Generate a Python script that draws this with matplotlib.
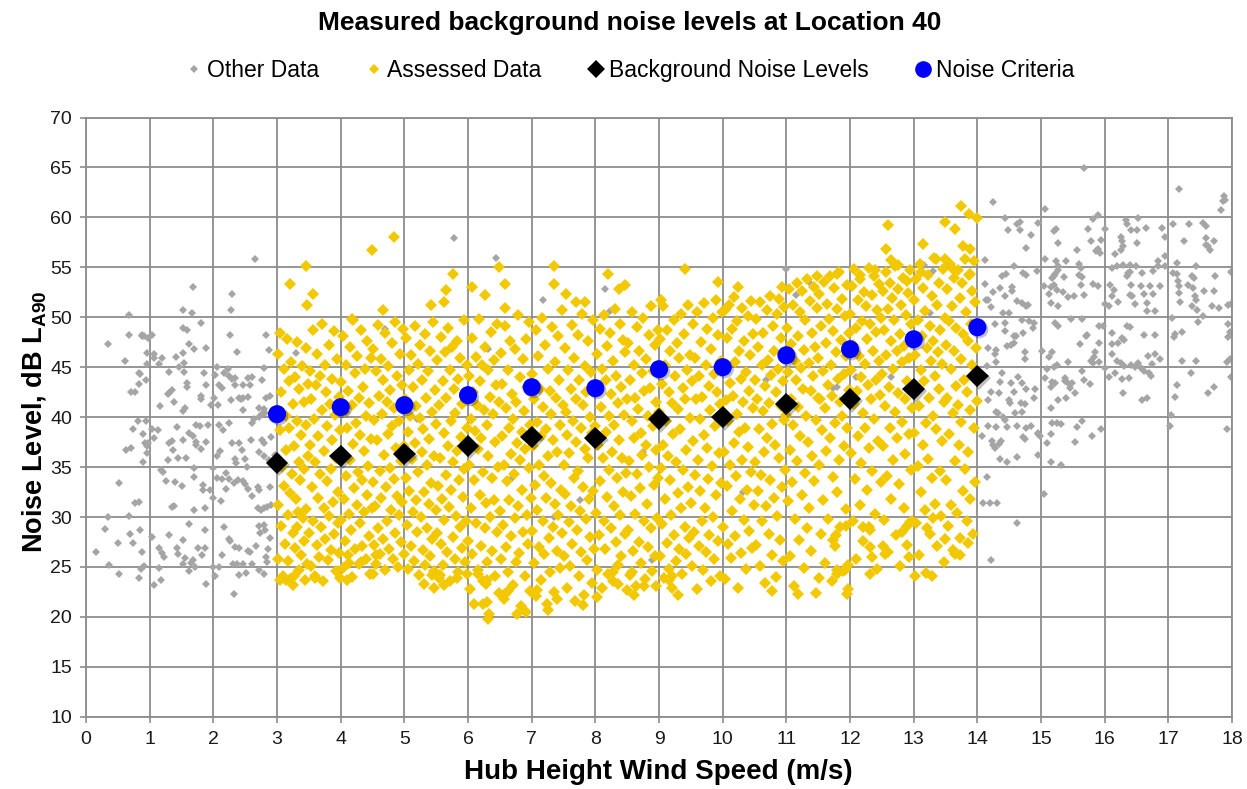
import numpy as np
import matplotlib.pyplot as plt
from matplotlib.lines import Line2D
import matplotlib.patheffects as pe

plt.rcParams["font.family"] = ["Liberation Sans", "DejaVu Sans"]
plt.rcParams["mathtext.fontset"] = "custom"
plt.rcParams["mathtext.rm"] = "Liberation Sans"
plt.rcParams["mathtext.bf"] = "Liberation Sans:bold"

# scatter points are (wind speed in cm/s, noise level in tenths of a dB)
other_low = [
    (265, 558), (168, 530), (230, 523), (227, 507), (152, 507), (166, 504), (67, 502), (180, 494),
    (152, 489), (159, 487), (68, 482), (88, 482), (97, 479), (103, 482), (226, 482), (283, 482),
    (34, 473), (161, 473), (169, 468), (188, 469), (237, 465), (287, 467), (107, 463), (120, 459),
    (142, 460), (152, 464), (61, 456), (96, 453), (115, 453), (154, 454), (146, 450), (205, 450),
    (223, 448), (279, 449), (83, 444), (130, 445), (154, 445), (185, 444), (202, 442), (216, 444),
    (225, 441), (230, 438), (234, 439), (254, 439), (260, 440), (94, 437), (276, 437), (158, 434),
    (159, 430), (188, 432), (209, 432), (214, 429), (234, 432), (246, 432), (257, 432), (71, 425),
    (77, 425), (135, 427), (129, 423), (180, 421), (201, 419), (241, 419), (247, 419), (255, 420),
    (282, 419), (130, 424), (180, 418), (116, 411), (138, 415), (152, 406), (155, 409), (196, 412),
    (207, 412), (228, 417), (243, 418), (272, 409), (276, 403), (280, 408), (247, 407), (94, 396),
    (74, 388), (90, 383), (92, 374), (98, 374), (95, 371), (63, 367), (71, 369), (95, 364),
    (89, 355), (104, 388), (113, 387), (107, 379), (143, 390), (153, 377), (162, 384), (168, 381),
    (173, 392), (179, 391), (172, 375), (173, 372), (181, 368), (188, 375), (192, 392), (130, 374),
    (135, 376), (137, 367), (128, 357), (144, 359), (157, 359), (169, 349), (199, 349), (209, 392),
    (215, 387), (225, 394), (210, 366), (206, 361), (230, 374), (241, 374), (245, 367), (250, 358),
    (259, 377), (277, 377), (279, 374), (272, 365), (280, 361), (287, 357), (253, 350), (234, 358),
    (236, 354), (260, 394), (264, 398), (272, 400), (121, 345), (118, 347), (126, 336), (139, 335),
    (150, 331), (170, 340), (183, 332), (184, 327), (194, 327), (199, 319), (212, 316), (205, 339),
    (214, 338), (220, 344), (225, 338), (233, 334), (239, 337), (246, 336), (250, 333), (220, 328),
    (255, 328), (270, 330), (272, 327), (261, 321), (289, 330), (138, 311), (135, 310), (170, 307),
    (187, 309), (52, 334), (77, 314), (83, 315), (68, 301), (35, 300), (275, 307), (280, 309),
    (285, 310), (291, 312), (30, 288), (15, 265), (36, 252), (51, 243), (50, 274), (69, 283),
    (73, 274), (85, 287), (88, 265), (86, 248), (91, 251), (83, 239), (104, 280), (114, 269),
    (107, 232), (118, 237), (120, 264), (122, 260), (115, 249), (131, 282), (143, 269), (144, 263),
    (152, 277), (152, 253), (156, 259), (161, 293), (165, 254), (168, 257), (171, 250), (162, 246),
    (176, 269), (187, 269), (182, 262), (187, 287), (189, 233), (200, 250), (203, 241), (209, 250),
    (214, 262), (216, 290), (224, 278), (226, 276), (231, 253), (237, 253), (233, 223), (240, 242),
    (234, 270), (240, 269), (246, 253), (252, 244), (254, 266), (258, 265), (260, 253), (267, 271),
    (271, 247), (273, 284), (281, 287), (279, 243), (283, 260), (285, 255), (286, 268), (289, 279),
    (271, 291), (279, 292), (270, 309), (83, 433), (85, 443), (88, 481), (91, 481), (96, 464),
    (106, 459), (81, 396), (281, 404), (289, 421), (294, 398), (291, 380), (297, 362),
]

other_high = [
    (1567, 649), (1716, 628), (1425, 615), (1788, 621), (1789, 617), (1786, 616), (1782, 607), (1507, 608),
    (1444, 599), (1590, 602), (1581, 598), (1633, 597), (1635, 593), (1653, 599), (1707, 593), (1732, 593),
    (1755, 594), (1759, 591), (1462, 593), (1467, 595), (1495, 594), (1448, 587), (1467, 587), (1484, 582),
    (1520, 586), (1523, 588), (1573, 588), (1600, 588), (1642, 587), (1651, 587), (1665, 589), (1690, 589),
    (1694, 580), (1626, 580), (1627, 576), (1629, 571), (1650, 574), (1579, 576), (1594, 577), (1725, 576),
    (1759, 579), (1759, 572), (1772, 576), (1766, 567), (1763, 571), (1476, 569), (1526, 574), (1556, 567),
    (1587, 566), (1592, 564), (1590, 568), (1626, 567), (1616, 563), (1695, 561), (1683, 556), (1713, 554),
    (1412, 557), (1506, 558), (1524, 556), (1539, 556), (1458, 551), (1526, 551), (1527, 547), (1522, 543),
    (1518, 539), (1521, 541), (1560, 553), (1563, 549), (1611, 549), (1620, 551), (1629, 552), (1639, 552),
    (1649, 551), (1676, 546), (1684, 551), (1694, 551), (1658, 544), (1744, 551), (1494, 546), (1438, 541),
    (1445, 543), (1472, 544), (1476, 542), (1536, 540), (1560, 542), (1565, 540), (1635, 541), (1637, 544),
    (1640, 545), (1708, 544), (1713, 543), (1737, 541), (1741, 539), (1773, 541), (1799, 545), (1412, 533),
    (1436, 529), (1455, 530), (1455, 526), (1425, 525), (1443, 521), (1504, 531), (1516, 530), (1521, 532),
    (1525, 527), (1513, 523), (1535, 525), (1563, 532), (1567, 522), (1552, 521), (1581, 533), (1590, 531),
    (1608, 532), (1614, 527), (1611, 521), (1642, 532), (1639, 522), (1643, 521), (1657, 531), (1662, 523),
    (1671, 531), (1676, 523), (1687, 531), (1715, 536), (1717, 531), (1717, 524), (1731, 532), (1739, 529),
    (1742, 521), (1743, 517), (1756, 526), (1771, 526), (1794, 512), (1798, 513), (1413, 517), (1417, 517),
    (1462, 516), (1470, 514), (1477, 511), (1480, 512), (1422, 510), (1515, 514), (1527, 511), (1542, 520),
    (1600, 513), (1606, 511), (1621, 515), (1647, 513), (1666, 514), (1667, 506), (1679, 506), (1718, 515),
    (1737, 511), (1745, 507), (1755, 501), (1768, 511), (1779, 509), (1441, 504), (1449, 504), (1470, 497),
    (1481, 496), (1489, 494), (1488, 489), (1522, 494), (1526, 491), (1547, 498), (1565, 498), (1591, 491),
    (1598, 491), (1635, 491), (1640, 490), (1611, 484), (1661, 482), (1679, 482), (1705, 499), (1710, 483),
    (1721, 485), (1747, 495), (1794, 493), (1797, 485), (1428, 493), (1443, 494), (1444, 486), (1460, 481),
    (1472, 484), (1572, 482), (1416, 469), (1427, 463), (1430, 467), (1429, 455), (1415, 451), (1446, 471),
    (1453, 472), (1457, 474), (1458, 481), (1475, 465), (1475, 458), (1439, 444), (1435, 435), (1453, 434),
    (1457, 425), (1464, 440), (1470, 434), (1422, 425), (1434, 424), (1416, 417), (1449, 417), (1451, 414),
    (1468, 414), (1475, 413), (1477, 428), (1491, 428), (1489, 419), (1459, 404), (1470, 405), (1433, 404),
    (1430, 405), (1443, 397), (1441, 400), (1417, 391), (1430, 390), (1446, 390), (1462, 391), (1477, 389),
    (1484, 391), (1407, 381), (1423, 376), (1425, 372), (1428, 369), (1434, 373), (1437, 376), (1472, 380),
    (1475, 378), (1496, 383), (1498, 381), (1436, 358), (1446, 355), (1462, 360), (1495, 362), (1415, 340),
    (1409, 314), (1420, 314), (1431, 314), (1463, 294), (1505, 323), (1422, 257), (1501, 466), (1513, 460),
    (1518, 465), (1525, 452), (1521, 450), (1509, 448), (1507, 439), (1518, 435), (1516, 430), (1522, 434),
    (1538, 439), (1537, 436), (1543, 434), (1548, 434), (1545, 429), (1554, 424), (1527, 417), (1539, 419),
    (1516, 409), (1518, 394), (1525, 394), (1531, 393), (1556, 390), (1564, 396), (1594, 388), (1580, 381),
    (1553, 375), (1516, 383), (1510, 374), (1516, 355), (1531, 352), (1495, 384), (1542, 455), (1561, 473),
    (1571, 481), (1565, 446), (1568, 437), (1577, 433), (1585, 465), (1583, 460), (1579, 456), (1581, 454),
    (1591, 474), (1591, 455), (1600, 449), (1606, 440), (1611, 473), (1621, 474), (1627, 479), (1630, 477),
    (1612, 463), (1620, 456), (1626, 454), (1631, 451), (1616, 444), (1627, 438), (1638, 439), (1629, 424),
    (1642, 452), (1647, 450), (1652, 454), (1657, 449), (1661, 446), (1668, 461), (1674, 453), (1679, 463),
    (1687, 458), (1669, 444), (1673, 441), (1658, 417), (1667, 419), (1709, 480), (1721, 456), (1744, 456),
    (1735, 444), (1714, 432), (1704, 402), (1702, 391), (1763, 424), (1771, 430), (1711, 420), (1792, 455),
    (1797, 458), (1799, 440), (1792, 388), (1793, 480),
]

# a few "other" points that peek out from under the assessed cloud
other_mid = [
    (556, 360), (578, 579), (644, 559), (669, 339), (718, 517), (735, 300), (776, 317), (815, 528),
    (823, 506), (875, 365), (889, 257), (1032, 325), (1068, 437), (1099, 548), (1115, 522), (1136, 535),
    (1173, 429), (1179, 430), (1210, 440), (1265, 440), (1268, 518), (1316, 552), (1326, 504), (1331, 546),
    (1352, 527), (571, 468), (632, 468), (330, 464), (341, 452), (470, 488), (520, 398),
]

assessed = [
    (301, 463), (302, 312), (302, 258), (304, 484), (305, 387), (306, 291), (307, 425), (308, 350), (309, 241), (311, 448),
    (311, 331), (312, 273), (314, 401), (314, 367), (315, 478), (317, 302), (317, 256), (318, 436), (319, 389), (321, 324),
    (321, 238), (322, 455), (323, 343), (325, 284), (325, 413), (326, 371), (328, 269), (328, 440), (329, 318), (331, 396),
    (331, 290), (332, 475), (334, 355), (334, 247), (335, 428), (336, 337), (338, 262), (338, 382), (339, 451), (341, 299),
    (342, 415), (342, 348), (343, 276), (345, 469), (346, 308), (346, 392), (347, 253), (348, 433), (349, 361), (344, 237),
    (333, 305),
    (350, 284), (351, 446), (352, 372), (353, 251), (354, 418), (355, 330), (356, 487), (357, 296), (358, 398), (359, 241),
    (360, 355), (361, 432), (362, 272), (363, 463), (364, 319), (365, 381), (366, 260), (367, 441), (368, 343), (369, 290),
    (370, 407), (371, 493), (372, 236), (373, 366), (374, 309), (375, 452), (376, 278), (377, 425), (378, 336), (379, 391),
    (380, 257), (381, 472), (382, 301), (383, 413), (384, 348), (385, 267), (386, 438), (387, 377), (388, 315), (389, 486),
    (390, 283), (391, 402), (392, 246), (393, 359), (394, 458), (395, 325), (396, 294), (397, 420), (398, 264), (399, 387),
    (400, 297), (401, 435), (402, 364), (403, 249), (404, 481), (405, 318), (406, 405), (407, 276), (408, 452), (409, 341),
    (410, 389), (411, 262), (412, 426), (413, 303), (414, 470), (415, 357), (416, 287), (417, 412), (418, 240), (419, 373),
    (420, 497), (421, 329), (422, 444), (423, 268), (424, 394), (425, 312), (426, 461), (427, 345), (428, 253), (429, 419),
    (430, 382), (431, 294), (432, 487), (433, 337), (434, 271), (435, 430), (436, 366), (437, 305), (438, 448), (439, 258),
    (440, 401), (441, 322), (442, 476), (443, 351), (444, 281), (445, 414), (446, 243), (447, 378), (448, 459), (449, 309),
    (450, 335), (451, 468), (452, 272), (453, 397), (454, 311), (455, 446), (456, 253), (457, 377), (458, 492), (459, 289),
    (460, 421), (461, 346), (462, 263), (463, 458), (464, 319), (465, 403), (466, 278), (467, 437), (468, 362), (469, 247),
    (470, 484), (471, 330), (472, 415), (473, 296), (474, 383), (475, 451), (476, 268), (477, 349), (478, 427), (479, 307),
    (480, 474), (481, 391), (482, 258), (483, 338), (484, 409), (485, 284), (486, 495), (487, 369), (488, 321), (489, 441),
    (490, 250), (491, 396), (492, 302), (493, 463), (494, 356), (495, 275), (496, 432), (497, 315), (498, 488), (499, 371),
    (500, 263), (501, 418), (502, 339), (503, 479), (504, 292), (505, 385), (506, 248), (507, 447), (508, 326), (509, 401),
    (510, 271), (511, 462), (512, 358), (513, 305), (514, 430), (515, 256), (516, 374), (517, 491), (518, 317), (519, 411),
    (520, 285), (521, 453), (522, 345), (523, 242), (524, 399), (525, 472), (526, 300), (527, 365), (528, 437), (529, 267),
    (530, 388), (531, 325), (532, 483), (533, 252), (534, 419), (535, 352), (536, 289), (537, 446), (538, 313), (539, 378),
    (540, 261), (541, 466), (542, 334), (543, 405), (544, 278), (545, 495), (546, 361), (547, 246), (548, 427), (549, 307),
    (550, 393), (551, 284), (552, 457), (553, 331), (554, 239), (555, 412), (556, 359), (557, 273), (558, 480), (559, 318),
    (560, 436), (561, 252), (562, 384), (563, 297), (564, 465), (565, 342), (566, 419), (567, 265), (568, 371), (569, 489),
    (570, 310), (571, 447), (572, 236), (573, 396), (574, 327), (575, 470), (576, 280), (577, 355), (578, 428), (579, 258),
    (580, 404), (581, 301), (582, 476), (583, 366), (584, 245), (585, 438), (586, 337), (587, 290), (588, 459), (589, 380),
    (590, 269), (591, 413), (592, 320), (593, 497), (594, 348), (595, 255), (596, 424), (597, 296), (598, 389), (599, 452),
    (600, 276), (601, 441), (602, 352), (603, 228), (604, 398), (605, 309), (606, 479), (607, 263), (608, 425), (609, 337),
    (610, 213), (611, 386), (612, 460), (613, 294), (614, 412), (615, 247), (616, 368), (617, 498), (618, 322), (619, 436),
    (620, 271), (621, 379), (622, 452), (623, 236), (624, 345), (625, 407), (626, 289), (627, 470), (628, 314), (629, 392),
    (630, 255), (631, 447), (632, 361), (633, 203), (634, 420), (635, 300), (636, 485), (637, 339), (638, 266), (639, 403),
    (640, 457), (641, 317), (642, 241), (643, 375), (644, 432), (645, 285), (646, 493), (647, 350), (648, 224), (649, 415),
    (650, 306), (651, 464), (652, 258), (653, 381), (654, 433), (655, 292), (656, 352), (657, 218), (658, 491), (659, 409),
    (660, 270), (661, 336), (662, 447), (663, 245), (664, 389), (665, 317), (666, 476), (667, 363), (668, 281), (669, 423),
    (670, 232), (671, 398), (672, 343), (673, 468), (674, 299), (675, 255), (676, 415), (677, 374), (678, 311), (679, 502),
    (680, 264), (681, 440), (682, 357), (683, 211), (684, 385), (685, 327), (686, 458), (687, 285), (688, 406), (689, 241),
    (690, 368), (691, 478), (692, 302), (693, 430), (694, 273), (695, 349), (696, 495), (697, 226), (698, 392), (699, 319),
    (700, 443), (701, 286), (702, 371), (703, 254), (704, 418), (705, 332), (706, 487), (707, 221), (708, 395), (709, 307),
    (710, 461), (711, 270), (712, 352), (713, 428), (714, 237), (715, 381), (716, 499), (717, 296), (718, 410), (719, 341),
    (720, 263), (721, 472), (722, 319), (723, 388), (724, 213), (725, 448), (726, 361), (727, 279), (728, 426), (729, 245),
    (730, 403), (731, 334), (732, 490), (733, 290), (734, 377), (735, 225), (736, 455), (737, 313), (738, 419), (739, 266),
    (740, 365), (741, 481), (742, 302), (743, 437), (744, 249), (745, 392), (746, 327), (747, 507), (748, 284), (749, 412),
    (750, 352), (751, 261), (752, 469), (753, 323), (754, 405), (755, 229), (756, 382), (757, 447), (758, 295), (759, 364),
    (760, 251), (761, 428), (762, 311), (763, 492), (764, 273), (765, 396), (766, 339), (767, 459), (768, 216), (769, 375),
    (770, 418), (771, 287), (772, 482), (773, 346), (774, 241), (775, 437), (776, 306), (777, 389), (778, 265), (779, 503),
    (780, 330), (781, 412), (782, 222), (783, 368), (784, 451), (785, 298), (786, 425), (787, 257), (788, 359), (789, 476),
    (790, 318), (791, 400), (792, 280), (793, 445), (794, 234), (795, 384), (796, 497), (797, 326), (798, 268), (799, 431),
    (800, 391), (801, 304), (802, 463), (803, 247), (804, 372), (805, 426), (806, 282), (807, 488), (808, 336), (809, 410),
    (810, 229), (811, 448), (812, 359), (813, 296), (814, 502), (815, 268), (816, 385), (817, 437), (818, 320), (819, 471),
    (820, 243), (821, 401), (822, 347), (823, 484), (824, 289), (825, 423), (826, 365), (827, 236), (828, 456), (829, 311),
    (830, 392), (831, 508), (832, 275), (833, 441), (834, 339), (835, 414), (836, 252), (837, 377), (838, 493), (839, 302),
    (840, 430), (841, 261), (842, 359), (843, 477), (844, 325), (845, 402), (846, 283), (847, 465), (848, 344), (849, 227),
    (850, 418), (851, 287), (852, 474), (853, 356), (854, 242), (855, 437), (856, 321), (857, 396), (858, 505), (859, 266),
    (860, 379), (861, 452), (862, 303), (863, 419), (864, 231), (865, 490), (866, 343), (867, 408), (868, 275), (869, 466),
    (870, 329), (871, 384), (872, 254), (873, 444), (874, 362), (875, 499), (876, 296), (877, 426), (878, 238), (879, 372),
    (880, 458), (881, 313), (882, 401), (883, 270), (884, 482), (885, 350), (886, 429), (887, 289), (888, 511), (889, 246),
    (890, 391), (891, 446), (892, 332), (893, 472), (894, 261), (895, 415), (896, 367), (897, 299), (898, 487), (899, 339),
    (900, 405), (901, 261), (902, 478), (903, 349), (904, 433), (905, 293), (906, 511), (907, 372), (908, 239), (909, 452),
    (910, 318), (911, 396), (912, 274), (913, 487), (914, 361), (915, 425), (916, 248), (917, 337), (918, 466), (919, 302),
    (920, 414), (921, 229), (922, 383), (923, 497), (924, 282), (925, 441), (926, 355), (927, 256), (928, 474), (929, 324),
    (930, 408), (931, 268), (932, 459), (933, 388), (934, 309), (935, 503), (936, 243), (937, 429), (938, 347), (939, 483),
    (940, 290), (941, 418), (942, 367), (943, 263), (944, 447), (945, 330), (946, 512), (947, 279), (948, 399), (949, 462),
    (950, 314), (951, 436), (952, 251), (953, 493), (954, 376), (955, 285), (956, 459), (957, 342), (958, 418), (959, 228),
    (960, 505), (961, 357), (962, 271), (963, 441), (964, 326), (965, 398), (966, 475), (967, 296), (968, 420), (969, 247),
    (970, 382), (971, 514), (972, 309), (973, 452), (974, 265), (975, 369), (976, 488), (977, 338), (978, 431), (979, 282),
    (980, 407), (981, 236), (982, 468), (983, 351), (984, 499), (985, 300), (986, 443), (987, 258), (988, 391), (989, 517),
    (990, 322), (991, 425), (992, 276), (993, 482), (994, 364), (995, 413), (996, 241), (997, 456), (998, 334), (999, 505),
    (1000, 290), (1001, 448), (1002, 365), (1003, 507), (1004, 238), (1005, 417), (1006, 331), (1007, 479), (1008, 273), (1009, 396),
    (1010, 512), (1011, 352), (1012, 434), (1013, 259), (1014, 488), (1015, 306), (1016, 421), (1017, 374), (1018, 520), (1019, 281),
    (1020, 455), (1021, 341), (1022, 403), (1023, 496), (1024, 229), (1025, 385), (1026, 466), (1027, 318), (1028, 438), (1029, 264),
    (1030, 509), (1031, 357), (1032, 415), (1033, 297), (1034, 476), (1035, 389), (1036, 248), (1037, 445), (1038, 327), (1039, 501),
    (1040, 370), (1041, 426), (1042, 286), (1043, 462), (1044, 345), (1045, 516), (1046, 269), (1047, 409), (1048, 483), (1049, 312),
    (1050, 437), (1051, 355), (1052, 498), (1053, 272), (1054, 418), (1055, 326), (1056, 470), (1057, 388), (1058, 251), (1059, 515),
    (1060, 342), (1061, 452), (1062, 296), (1063, 406), (1064, 484), (1065, 365), (1066, 234), (1067, 431), (1068, 311), (1069, 507),
    (1070, 379), (1071, 457), (1072, 283), (1073, 414), (1074, 521), (1075, 337), (1076, 442), (1077, 262), (1078, 393), (1079, 491),
    (1080, 319), (1081, 466), (1082, 372), (1083, 240), (1084, 425), (1085, 503), (1086, 301), (1087, 448), (1088, 359), (1089, 518),
    (1090, 277), (1091, 411), (1092, 479), (1093, 330), (1094, 436), (1095, 256), (1096, 397), (1097, 510), (1098, 347), (1099, 462),
    (1100, 402), (1101, 489), (1102, 316), (1103, 445), (1104, 528), (1105, 367), (1106, 261), (1107, 473), (1108, 418), (1109, 335),
    (1110, 512), (1111, 392), (1112, 231), (1113, 456), (1114, 298), (1115, 437), (1116, 534), (1117, 356), (1118, 481), (1119, 410),
    (1120, 277), (1121, 505), (1122, 381), (1123, 449), (1124, 322), (1125, 526), (1126, 428), (1127, 249), (1128, 467), (1129, 344),
    (1130, 497), (1131, 401), (1132, 289), (1133, 538), (1134, 375), (1135, 454), (1136, 309), (1137, 516), (1138, 426), (1139, 266),
    (1140, 484), (1141, 361), (1142, 441), (1143, 530), (1144, 336), (1145, 470), (1146, 397), (1147, 224), (1148, 509), (1149, 419),
    (1150, 459), (1151, 352), (1152, 523), (1153, 418), (1154, 283), (1155, 491), (1156, 387), (1157, 446), (1158, 317), (1159, 535),
    (1160, 409), (1161, 254), (1162, 474), (1163, 366), (1164, 513), (1165, 432), (1166, 298), (1167, 498), (1168, 379), (1169, 541),
    (1170, 452), (1171, 236), (1172, 421), (1173, 340), (1174, 486), (1175, 529), (1176, 394), (1177, 271), (1178, 465), (1179, 325),
    (1180, 508), (1181, 438), (1182, 357), (1183, 545), (1184, 415), (1185, 290), (1186, 477), (1187, 401), (1188, 518), (1189, 246),
    (1190, 443), (1191, 371), (1192, 501), (1193, 308), (1194, 461), (1195, 532), (1196, 389), (1197, 228), (1198, 484), (1199, 427),
    (1200, 503), (1201, 364), (1202, 447), (1203, 531), (1204, 296), (1205, 472), (1206, 413), (1207, 548), (1208, 338), (1209, 489),
    (1210, 258), (1211, 426), (1212, 517), (1213, 381), (1214, 461), (1215, 312), (1216, 538), (1217, 440), (1218, 354), (1219, 496),
    (1220, 404), (1221, 276), (1222, 525), (1223, 453), (1224, 389), (1225, 511), (1226, 327), (1227, 478), (1228, 432), (1229, 549),
    (1230, 369), (1231, 287), (1232, 493), (1233, 418), (1234, 522), (1235, 346), (1236, 466), (1237, 398), (1238, 541), (1239, 303),
    (1240, 485), (1241, 437), (1242, 248), (1243, 507), (1244, 376), (1245, 456), (1246, 533), (1247, 422), (1248, 335), (1249, 499),
    (1250, 443), (1251, 526), (1252, 371), (1253, 487), (1254, 297), (1255, 411), (1256, 545), (1257, 462), (1258, 341), (1259, 508),
    (1260, 265), (1261, 430), (1262, 534), (1263, 389), (1264, 476), (1265, 318), (1266, 519), (1267, 448), (1268, 357), (1269, 497),
    (1270, 405), (1271, 551), (1272, 282), (1273, 466), (1274, 379), (1275, 528), (1276, 424), (1277, 333), (1278, 483), (1279, 251),
    (1280, 512), (1281, 395), (1282, 455), (1283, 539), (1284, 309), (1285, 471), (1286, 418), (1287, 363), (1288, 502), (1289, 436),
    (1290, 272), (1291, 524), (1292, 383), (1293, 459), (1294, 547), (1295, 347), (1296, 493), (1297, 409), (1298, 296), (1299, 478),
    (1300, 517), (1301, 384), (1302, 462), (1303, 294), (1304, 538), (1305, 426), (1306, 351), (1307, 497), (1308, 411), (1309, 262),
    (1310, 553), (1311, 447), (1312, 325), (1313, 481), (1314, 372), (1315, 529), (1316, 436), (1317, 307), (1318, 506), (1319, 394),
    (1320, 244), (1321, 469), (1322, 542), (1323, 358), (1324, 419), (1325, 491), (1326, 283), (1327, 456), (1328, 521), (1329, 339),
    (1330, 401), (1331, 476), (1332, 559), (1333, 313), (1334, 441), (1335, 388), (1336, 512), (1337, 271), (1338, 465), (1339, 428),
    (1340, 534), (1341, 346), (1342, 487), (1343, 301), (1344, 453), (1345, 376), (1346, 548), (1347, 415), (1348, 255), (1349, 499),
    (1350, 472), (1351, 337), (1352, 528), (1353, 419), (1354, 291), (1355, 496), (1356, 383), (1357, 553), (1358, 448), (1359, 312),
    (1360, 511), (1361, 404), (1362, 267), (1363, 466), (1364, 539), (1365, 356), (1366, 431), (1367, 489), (1368, 304), (1369, 547),
    (1370, 412), (1371, 372), (1372, 519), (1373, 279), (1374, 458), (1375, 395), (1376, 534), (1377, 326), (1378, 483), (1379, 437),
    (1380, 558), (1381, 348), (1382, 505), (1383, 296), (1384, 425), (1385, 476), (1386, 365), (1387, 542), (1388, 407), (1389, 318),
    (1390, 493), (1391, 452), (1392, 526), (1393, 283), (1394, 441), (1395, 389), (1396, 515), (1397, 335), (1398, 469), (1399, 416),
    # scattered high and low readings
    (346, 551), (321, 533), (356, 523), (347, 512), (449, 567), (483, 580), (466, 507), (417, 498), (577, 543), (566, 527),
    (649, 550), (658, 533), (735, 551), (735, 533), (754, 523), (542, 512), (563, 515), (606, 530), (626, 522), (769, 515),
    (784, 515), (658, 509), (820, 543), (837, 528), (847, 532), (941, 548), (903, 517), (992, 535), (1024, 530), (1093, 530),
    (1148, 541), (1180, 543), (1375, 611), (1387, 603), (1399, 599), (1259, 592), (1349, 595), (1365, 588), (1314, 573), (1256, 568),
    (1377, 571), (1389, 568), (1265, 557), (1276, 552), (1335, 558), (1349, 558), (1395, 556), (1239, 547), (1216, 542), (1361, 548),
    (1389, 543), (1290, 536), (1311, 545),
    (632, 198), (623, 213), (630, 215), (677, 203), (691, 205), (725, 207), (780, 212), (739, 218), (709, 227), (802, 220),
    (861, 222), (930, 222), (895, 231), (877, 231), (836, 233), (1077, 226), (1118, 223), (1195, 223), (1152, 239), (1180, 243),
    (658, 223), (663, 226), (628, 233), (630, 237), (598, 243), (615, 243), (582, 239), (531, 233), (547, 229), (563, 232),
    (543, 242), (556, 242), (828, 245), (858, 245), (916, 237), (921, 241), (1232, 243), (1302, 241), (1329, 241), (1180, 247),
    (1192, 247), (1197, 252), (1234, 260), (1255, 263), (1292, 260), (1232, 270), (1252, 271), (1349, 278), (1365, 263), (1372, 262),
    (1386, 274), (1321, 289), (1331, 299), (1281, 285), (1289, 291), (1294, 295), (1221, 290), (1229, 290), (1194, 291), (1178, 282),
    (1173, 277), (305, 237), (314, 237), (325, 232), (327, 241), (359, 239), (399, 239), (410, 237), (413, 254), (432, 255),
    (450, 243), (456, 262),
]

wind_bins = [3, 4, 5, 6, 7, 8, 9, 10, 11, 12, 13, 14]
background_levels = [35.4, 36.1, 36.3, 37.1, 38.0, 37.9, 39.8, 40.0, 41.3, 41.8, 42.8, 44.1]
noise_criteria = [40.3, 41.0, 41.2, 42.2, 43.0, 42.9, 44.8, 45.0, 46.2, 46.8, 47.8, 49.0]

GRAY = "#a5a5a5"
YELLOW = "#f2c800"
GRID = "#8c8c8c"


def split(points):
    arr = np.array(points, dtype=float)
    return arr[:, 0] / 100.0, arr[:, 1] / 10.0


def main() -> None:
    fig = plt.figure(figsize=(12.47, 7.89), dpi=100)
    ax = fig.add_axes([0.069, 0.0916, 0.919, 0.7594])

    for pts in (other_low, other_high, other_mid):
        x, y = split(pts)
        ax.plot(x, y, ls="none", marker="D", ms=3.8, mew=0, color=GRAY, zorder=2)

    x, y = split(assessed)
    ax.plot(x, y, ls="none", marker="D", ms=6.6, mew=0, color=YELLOW, zorder=3)

    shadow = [pe.SimplePatchShadow(offset=(1.5, -1.5), alpha=0.25), pe.Normal()]
    ax.plot(wind_bins, background_levels, ls="none", marker="D", ms=11.5, mew=0,
            color="black", zorder=4, path_effects=shadow)
    ax.plot(wind_bins, noise_criteria, ls="none", marker="o", ms=13, mew=0,
            color="#0000ff", zorder=5, path_effects=shadow)

    ax.set_xlim(0, 18)
    ax.set_ylim(10, 70)
    ax.set_xticks(range(0, 19))
    ax.set_yticks(range(10, 71, 5))
    ax.set_axisbelow(True)
    ax.grid(True, color=GRID, lw=1.3)
    for sp in ax.spines.values():
        sp.set_color(GRID)
        sp.set_linewidth(1.3)
    ax.tick_params(axis="both", colors=GRID, labelcolor="#1a1a1a", labelsize=14,
                   length=4, width=1.2, direction="out", pad=6)

    fig.text(0.505, 0.971, "Measured background noise levels at Location 40",
             ha="center", va="center", fontsize=19, fontweight="bold")
    fig.text(0.528, 0.021, "Hub Height Wind Speed (m/s)",
             ha="center", va="center", fontsize=20, fontweight="bold")
    fig.text(0.027, 0.466, r"Noise Level, dB L$_{\mathbf{A90}}$",
             ha="center", va="center", rotation=90, fontsize=19.5, fontweight="bold")

    handles = [
        Line2D([], [], ls="none", marker="D", ms=4.0, mew=0, color=GRAY),
        Line2D([], [], ls="none", marker="D", ms=5.0, mew=0, color=YELLOW),
        Line2D([], [], ls="none", marker="D", ms=9.0, mew=0, color="black"),
        Line2D([], [], ls="none", marker="o", ms=12, mew=0, color="#0000ff"),
    ]
    labels = ["Other Data", "Assessed Data", "Background Noise Levels", "Noise Criteria"]
    fig.legend(handles, labels, loc="center", bbox_to_anchor=(0.505, 0.911), ncol=4,
               frameon=False, fontsize=16.5, handlelength=0.8, handletextpad=0.15,
               columnspacing=2.0)

    fig.savefig("out.png", dpi=100)
    plt.close(fig)


if __name__ == "__main__":
    main()
